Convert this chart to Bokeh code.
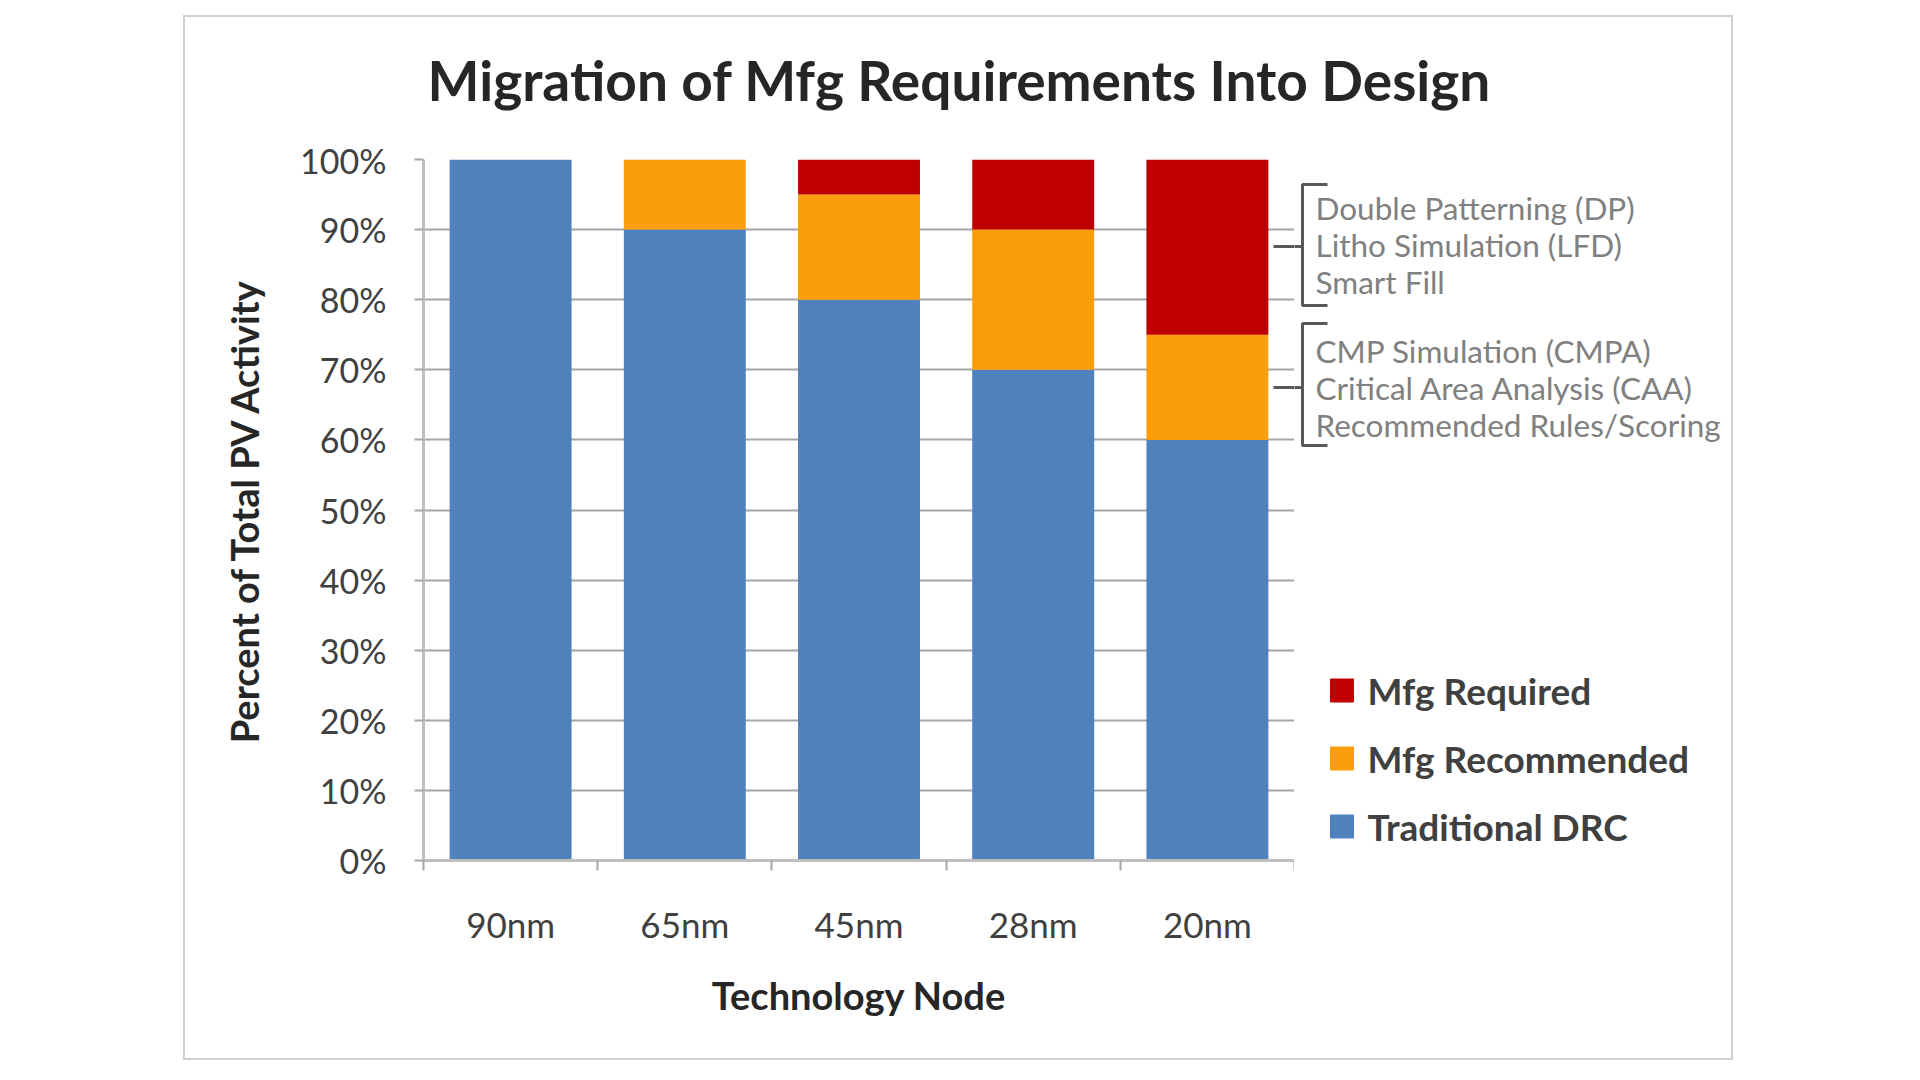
from bokeh.plotting import figure
from bokeh.models import (Range1d, FixedTicker, PrintfTickFormatter,
                          ColumnDataSource, Spacer)
from bokeh.layouts import row, column
from bokeh.core.properties import value
from bokeh.embed import file_html
from bokeh.resources import INLINE

# ---------------- data ----------------
nodes = ["90nm", "65nm", "45nm", "28nm", "20nm"]
traditional_drc = [100, 90, 80, 70, 60]
mfg_recommended = [0, 10, 15, 20, 15]
mfg_required = [0, 0, 5, 10, 25]
y_ticks = [0, 10, 20, 30, 40, 50, 60, 70, 80, 90, 100]
series_names = ["Traditional DRC", "Mfg Recommended", "Mfg Required"]
dp_notes = ["Double Patterning (DP)", "Litho Simulation (LFD)", "Smart Fill"]
rec_notes = ["CMP Simulation (CMPA)", "Critical Area Analysis (CAA)", "Recommended Rules/Scoring"]
title_text = "Migration of Mfg Requirements Into Design"

# ---------------- geometry (page pixels) ----------------
FONT = "Lato"
BLUE, ORANGE, RED = "#4F81BD", "#FC9D0C", "#C00000"
BR = "#595959"
X0, Y0, X1, Y1 = 185, 17, 1731, 1058          # content box of the chart
PX_L, PX_R, PY_T, PY_B = 423, 1294, 159, 860   # plot area
TOP_PAD = 20
TH = PY_T - Y0 - TOP_PAD                       # title strip height
BODY_H = (Y1 - Y0) - TH
n = len(nodes)


def sx(px):
    return (px - PX_L) / (PX_R - PX_L) * n


def sy(py):
    return (PY_B - py) / (PY_B - PY_T) * 100


def strip(w, h, xr, yr, top=0, bottom=0):
    f = figure(width=w, height=h, x_range=xr, y_range=yr, output_backend="svg",
               toolbar_location=None, min_border_left=0, min_border_right=0,
               min_border_top=top, min_border_bottom=bottom)
    f.axis.visible = False
    f.grid.visible = False
    f.outline_line_color = None
    f.background_fill_color = "white"
    f.border_fill_color = "white"
    return f


# ---------------- title strip ----------------
t = strip(X1 - X0, TH, Range1d(X0, X1), Range1d(Y0 + TH, Y0))
t.text(x=[959], y=[79], text=[title_text], text_align="center", text_baseline="middle",
       text_font=value(FONT), text_font_style=value("bold"), text_font_size="55px",
       text_color="#262626")

# ---------------- main chart ----------------
p = figure(width=PX_R - X0, height=BODY_H, x_range=Range1d(0, n), y_range=Range1d(0, 100),
           output_backend="svg", toolbar_location=None,
           min_border_left=PX_L - X0, min_border_right=0,
           min_border_top=TOP_PAD, min_border_bottom=Y1 - PY_B)
p.outline_line_color = None
p.background_fill_color = "white"
p.border_fill_color = "white"

src = ColumnDataSource(dict(x=[i + 0.5 for i in range(n)],
                            traditional=traditional_drc,
                            recommended=mfg_recommended,
                            required=mfg_required))
rs = p.vbar_stack(["traditional", "recommended", "required"], x="x", width=0.7,
                  source=src, fill_color=[BLUE, ORANGE, RED], line_color=None)

yt = FixedTicker(ticks=y_ticks)
p.yaxis.ticker = yt
p.yaxis.formatter = PrintfTickFormatter(format="%d%%")
p.ygrid.ticker = yt
p.ygrid.grid_line_color = "#a6a6a6"
p.ygrid.grid_line_width = 2
p.xgrid.visible = False

centers = [i + 0.5 for i in range(n)]
p.xaxis.ticker = FixedTicker(ticks=centers, minor_ticks=list(range(n + 1)))
p.xaxis.major_label_overrides = {c: lab for c, lab in zip(centers, nodes)}

for ax in (p.xaxis, p.yaxis):
    ax.axis_line_color = "#bfbfbf"
    ax.axis_line_width = 3
    ax.major_label_text_font = FONT
    ax.major_label_text_color = "#404040"
    ax.axis_label_text_font = FONT
    ax.axis_label_text_font_style = "bold"
    ax.axis_label_text_color = "#262626"

p.yaxis.major_tick_line_color = "#a6a6a6"
p.yaxis.major_tick_line_width = 2
p.yaxis.major_tick_out = 9
p.yaxis.major_tick_in = 0
p.yaxis.minor_tick_line_color = None
p.yaxis.major_label_text_font_size = "34px"
p.yaxis.major_label_standoff = 28
p.yaxis.axis_label = "Percent of Total PV Activity"
p.yaxis.axis_label_text_font_size = "38px"
p.yaxis.axis_label_standoff = 30

p.xaxis.major_tick_line_color = None
p.xaxis.major_tick_out = 0
p.xaxis.major_tick_in = 0
p.xaxis.minor_tick_line_color = "#a6a6a6"
p.xaxis.minor_tick_line_width = 2
p.xaxis.minor_tick_out = 10
p.xaxis.minor_tick_in = 0
p.xaxis.major_label_text_font_size = "35px"
p.xaxis.major_label_standoff = 32
p.xaxis.axis_label = "Technology Node"
p.xaxis.axis_label_text_font_size = "38px"
p.xaxis.axis_label_standoff = 24

# ---------------- side panel: notes, brackets, legend ----------------
# its frame is aligned with the main frame (page y PY_T..PY_B)
s = strip(X1 - PX_R, BODY_H, Range1d(PX_R, X1), Range1d(PY_B, PY_T),
          top=TOP_PAD, bottom=Y1 - PY_B)

note_y = [207, 244, 281, 350, 387, 424]
s.text(x=[1315] * 6, y=note_y, text=dp_notes + rec_notes, text_baseline="middle",
       text_font=value(FONT), text_font_size="31.5px", text_color="#808080")

brackets = [(184, 305, 246), (323, 445, 387)]
bx, by = [], []
for top, bot, mid in brackets:
    bx += [[1327, 1302, 1302, 1327], [1273, 1302]]
    by += [[top, top, bot, bot], [mid, mid]]
    p.segment(x0=sx(1273), y0=sy(mid), x1=n, y1=sy(mid), line_color=BR, line_width=3)
s.multi_line(bx, by, line_color=BR, line_width=3)

legend_y = [690, 758, 826]
legend_labels = [series_names[2], series_names[1], series_names[0]]
legend_colors = [RED, ORANGE, BLUE]
s.rect(x=[1341.5] * 3, y=legend_y, width=23, height=23, fill_color=legend_colors,
       line_color=legend_colors)
s.text(x=[1367] * 3, y=legend_y, text=legend_labels, text_baseline="middle",
       text_font=value(FONT), text_font_style=value("bold"), text_font_size="37px",
       text_color="#404040")

box = column(t, row(p, s))
box.styles = {"border": "2px solid #cfcfcf"}
layout = column(Spacer(width=10, height=Y0 - 2), row(Spacer(width=X0 - 2, height=10), box))
open("out.html", "w").write(file_html(layout, INLINE))
